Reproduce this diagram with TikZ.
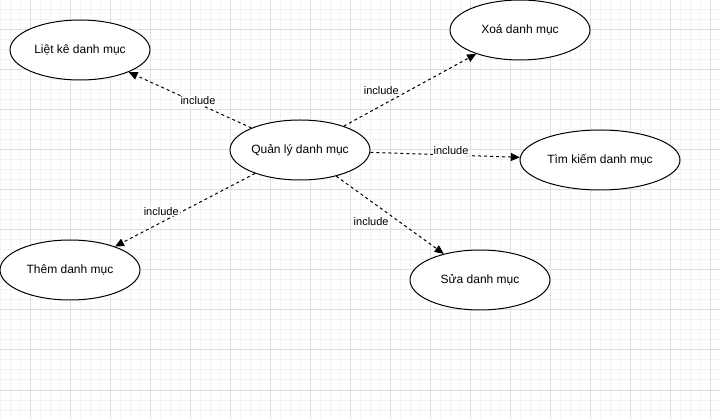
\documentclass[tikz,border=0pt]{standalone}
\usepackage{fontspec}
\setmainfont{Liberation Sans}
\usetikzlibrary{shapes.geometric,arrows.meta}
\definecolor{gridminor}{HTML}{F3F3F3}
\definecolor{gridmajor}{HTML}{DEDEDE}
\begin{document}
\begin{tikzpicture}[x=1pt,y=-1pt,
  usecase/.style={ellipse,draw=black,line width=1pt,fill=white,minimum width=140pt,minimum height=60pt,inner sep=0pt,font=\fontsize{12}{14}\selectfont},
  inc/.style={dash pattern=on 3pt off 3pt,line width=1pt,-{Triangle[length=9pt,width=8pt]}},
  lbl/.style={fill=white,inner sep=1pt,font=\fontsize{11}{13}\selectfont},
  minorline/.style={gridminor,line width=1pt},
  majorline/.style={gridmajor,line width=1pt}]
\useasboundingbox (0,0) rectangle (720,419);
\fill[white] (0,0) rectangle (720,419);
\foreach \i in {0,10,...,720} \draw[minorline] (\i,0) -- (\i,419);
\foreach \j in {0,10,...,410} \draw[minorline] (0,\j) -- (720,\j);
\foreach \i in {30,70,...,710} \draw[majorline] (\i,0) -- (\i,419);
\foreach \j in {30,70,...,390} \draw[majorline] (0,\j) -- (720,\j);

\node[usecase] (list) at (80,50) {Liệt kê danh mục};
\node[usecase] (main) at (300,150) {Quản lý danh mục};
\node[usecase] (del) at (520,30) {Xoá danh mục};
\node[usecase,minimum width=160pt] (find) at (600,160) {Tìm kiếm danh mục};
\node[usecase] (add) at (70,270) {Thêm danh mục};
\node[usecase] (edit) at (480,280) {Sửa danh mục};

\draw[inc] (main) -- node[lbl,pos=0.435,yshift=2.6pt] (l1) {include} (list);
\draw[inc] (main) -- node[lbl,pos=0.283,yshift=14.8pt] (l2) {include} (del);
\draw[inc] (main) -- node[lbl,pos=0.54,yshift=4pt] (l3) {include} (find);
\draw[inc] (main) -- node[lbl,pos=0.67,yshift=11pt] (l4) {include} (add);
\draw[inc] (main) -- node[lbl,pos=0.585,xshift=-28pt] (l5) {include} (edit);
\end{tikzpicture}
\end{document}
